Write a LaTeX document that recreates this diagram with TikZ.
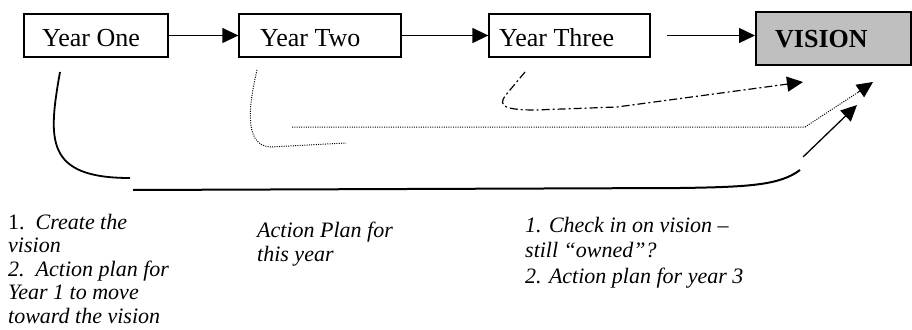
\documentclass[tikz,border=0pt]{standalone}
\usepackage{fontspec}
\setmainfont{Liberation Serif}
\usetikzlibrary{arrows.meta}
\begin{document}
\begin{tikzpicture}[x=1pt,y=-1pt,
  yearbox/.style={draw, line width=1.3pt, minimum height=43pt, inner sep=0pt},
  boxtext/.style={anchor=base west, inner sep=0pt, font=\fontsize{26}{30}\selectfont},
  note/.style={anchor=base west, inner sep=0pt, align=left, font=\fontsize{22}{23.5}\selectfont\itshape},
  tri/.style={-{Triangle[length=16pt,width=15pt]}},
  conn/.style={line width=1.3pt},
  dotline/.style={line width=1pt, dash pattern=on 1pt off 1.3pt},
  dashdotline/.style={line width=1.2pt, dash pattern=on 8pt off 3pt on 2pt off 3pt}]
\useasboundingbox (0,0) rectangle (912,329);

% boxes
\node[yearbox, minimum width=144pt] (y1) at (96,35.5) {};
\node[yearbox, minimum width=162pt] (y2) at (320,35.5) {};
\node[yearbox, minimum width=161pt] (y3) at (569.5,35.5) {};
\node[draw, line width=2pt, fill=black!25, minimum width=155pt, minimum height=53pt, inner sep=0pt] (vis) at (833.5,38.5) {};

\node[boxtext] (t1) at (42,47) {Year One};
\node[boxtext] (t2) at (260,47) {Year Two};
\node[boxtext] (t3) at (499,47) {Year Three};
\node[boxtext, font=\fontsize{26}{30}\selectfont\bfseries] (tv) at (775,48) {VISION};

% top arrows
\coordinate (s3) at (667,35.5);
\draw[conn, tri] (y1.east) -- (y2.west);
\draw[conn, tri] (y2.east) -- (y3.west);
\draw[conn, tri] (s3) -- (vis.west |- s3);

% Year One solid path
\coordinate (a1) at (60,72);
\coordinate (a2) at (130,178);
\draw[line width=1.8pt] (a1) .. controls (48,140) and (45,178) .. (a2);
\coordinate (b1) at (133,190);
\coordinate (b2) at (800,170);
\draw[line width=2pt] (b1) -- (680,188) .. controls (750,187) and (780,185) .. (b2);
\coordinate (c1) at (803,157);
\coordinate (c2) at (857,105);
\draw[conn, tri] (c1) -- (c2);

% Year Two dotted path
\coordinate (d1) at (257,70);
\coordinate (d2) at (346,143);
\draw[dotline] (d1) .. controls (250,100) and (242,145) .. (270,147) -- (d2);
\coordinate (e1) at (292,127);
\coordinate (e2) at (873,82);
\draw[dotline] (e1) -- (805,127) -- (860,91);
\draw[tri, line width=0.9pt] (858,92.3) -- (e2);

% Year Three dash-dot path
\coordinate (f1) at (525,72);
\coordinate (f2) at (803,82);
\draw[dashdotline, tri] (f1) -- (505,96) .. controls (498,106) and (505,110) .. (535,110) -- (617,107) -- (f2);

% notes (anchored at the baseline of the last line)
\node[note] (n1) at (8,323) {{\upshape 1.}\ \ Create the\\vision\\2.\ \ Action plan for\\Year 1 to move\\toward the vision};
\node[note] (n2) at (257,261) {Action Plan for\\this year};
\node[note, font=\fontsize{22}{25}\selectfont\itshape] (n3) at (525,283) {1. Check in on vision –\\still “owned”?\\[1pt]2. Action plan for year 3};
\end{tikzpicture}
\end{document}
